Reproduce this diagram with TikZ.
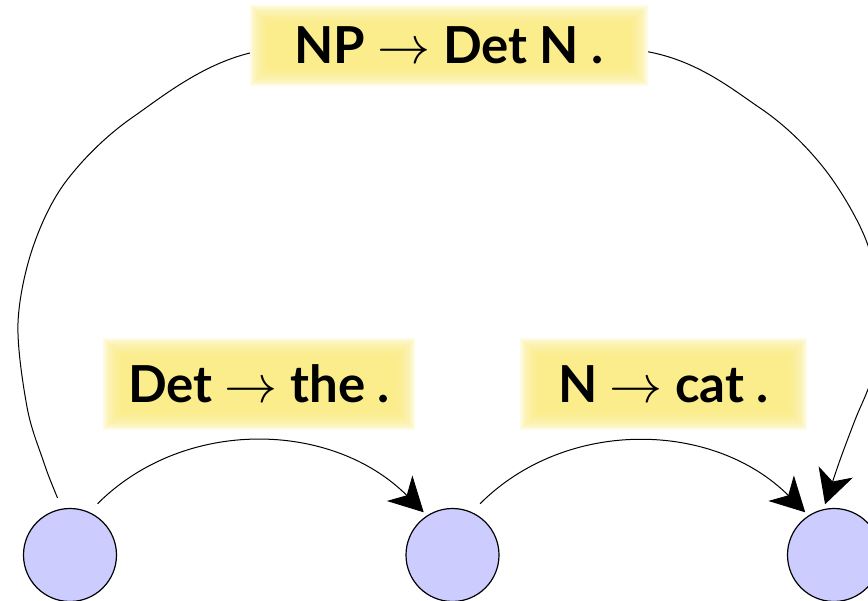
\RequirePackage{fix-cm}
\documentclass[tikz,border=0pt]{standalone}
\usepackage{fontspec}
\setsansfont{Lato}
\usetikzlibrary{arrows.meta}
\definecolor{hl}{RGB}{251,237,130}
\definecolor{nodefill}{RGB}{204,204,255}
\pgfdeclarelayer{edges}
\pgfdeclarelayer{glowlayer}
\pgfsetlayers{edges,glowlayer,main}
\newcommand\glowbox[1]{%
  \fill[white] (#1.south west) rectangle (#1.north east);
  \foreach \i in {0,...,9}{%
    \fill[hl,opacity=0.22] ([shift={(\i*2.2pt,\i*2.2pt)}]#1.south west) rectangle ([shift={(-\i*2.2pt,-\i*2.2pt)}]#1.north east);
  }}
\newcommand\ra{\mbox{\fontsize{53}{60}\selectfont$\rightarrow$}}
\begin{document}
\begin{tikzpicture}[x=1pt,y=-1pt,
  state/.style={circle,draw=black,line width=1.2pt,fill=nodefill,minimum size=93pt,inner sep=0pt,outer sep=5pt},
  rulelbl/.style={inner sep=0pt,text=black,font=\fontsize{51}{60}\selectfont\sffamily\bfseries},
  edge/.style={line width=1pt,-{Stealth[length=34pt,width=36pt,inset=10pt]}},
  ]
\useasboundingbox (0,0) rectangle (868,601);
\node[state] (q0) at (70,555) {};
\node[state] (q1) at (452.5,555) {};
\node[state] (q2) at (834,555) {};
\node[rulelbl,minimum width=398pt,minimum height=81pt] (r0) at (449,45.5) {NP \ra{} Det N .};
\node[rulelbl,minimum width=312pt,minimum height=92pt] (r1) at (259,384) {Det \ra{} the .};
\node[rulelbl,minimum width=287pt,minimum height=92pt] (r2) at (663.5,384) {N \ra{} cat .};
\begin{pgfonlayer}{glowlayer}
  \glowbox{r0}
  \glowbox{r1}
  \glowbox{r2}
\end{pgfonlayer}
\begin{pgfonlayer}{edges}
  \draw[edge,shorten <=7pt] (q0.64) to[out=45,in=135] (q1.124);
  \draw[edge,shorten <=7pt] (q1.64) to[out=45,in=135] (q2.124);
  \draw[edge,shorten <=7pt] plot[smooth,tension=0.55] coordinates {(q0.101) (43,460) (27,407) (18,323) (33,247) (67,180) (133,117) (250,53) (452,40) (654,53) (760,108) (823,167) (866,240) (879,310) (873,373) (855,420) (840,460) (q2.100)};
\end{pgfonlayer}
\end{tikzpicture}
\end{document}
